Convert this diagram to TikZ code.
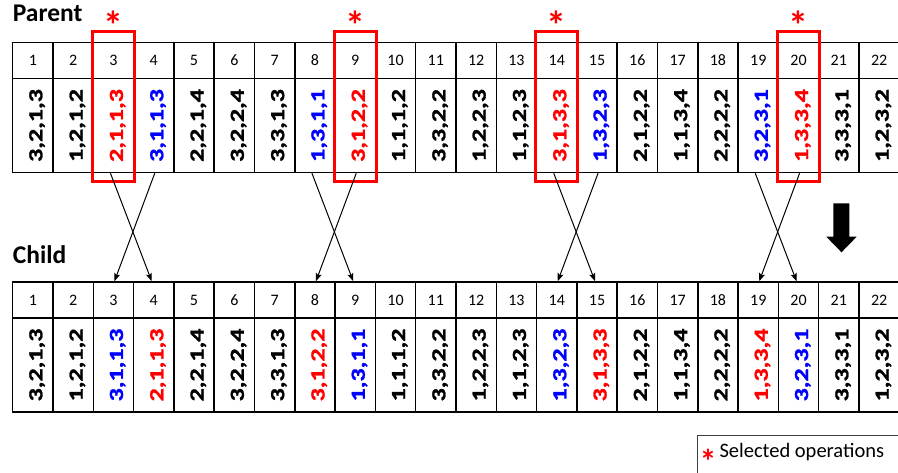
\documentclass[tikz,border=0pt]{standalone}
\usepackage{fontspec}
\setmainfont{Carlito}
\newfontfamily\valfont{Carlito}[BoldFeatures={FakeBold=1.2}]
\usetikzlibrary{arrows.meta}
\definecolor{selred}{RGB}{255,0,0}
\definecolor{selblue}{RGB}{0,0,255}
\newcommand{\selstar}{\raisebox{-0.58em}[0.2em][0.2em]{*}}
\begin{document}
\begin{tikzpicture}[x=1pt,y=1pt,
  cell/.style={draw, line width=1.5pt, inner sep=0pt, minimum width=40.3pt},
  hdr/.style={cell, minimum height=36pt},
  bod/.style={cell, minimum height=94pt},
  num/.style={font=\fontsize{16}{16}\selectfont, inner sep=0pt},
  val/.style={font=\valfont\bfseries\fontsize{20}{20}\selectfont, rotate=90, anchor=base, inner sep=0pt},
  selbox/.style={draw=selred, line width=3pt},
  star/.style={text=selred, font=\bfseries\fontsize{40}{40}\selectfont, inner sep=0pt, anchor=center},
  xarrow/.style={line width=1pt, -{Stealth[length=8pt,width=6pt,inset=1.5pt]}},
  title/.style={font=\bfseries\fontsize{25.5}{25.5}\selectfont, anchor=base west, inner sep=0pt}
]
\useasboundingbox (0,0) rectangle (898,-473);
\clip (0,0) rectangle (898,-473);

\node[title] (parent) at (12.7,-21.7) {Parent};
\node[title] (child) at (12.7,-264) {Child};

% Parent table
\foreach \k/\v/\c in {1/{3,2,1,3}/black,2/{1,2,1,2}/black,3/{2,1,1,3}/selred,4/{3,1,1,3}/selblue,
  5/{2,2,1,4}/black,6/{3,2,2,4}/black,7/{3,3,1,3}/black,8/{1,3,1,1}/selblue,9/{3,1,2,2}/selred,
  10/{1,1,1,2}/black,11/{3,3,2,2}/black,12/{1,2,2,3}/black,13/{1,1,2,3}/black,14/{3,1,3,3}/selred,
  15/{1,3,2,3}/selblue,16/{2,1,2,2}/black,17/{1,1,3,4}/black,18/{2,2,2,2}/black,19/{3,2,3,1}/selblue,
  20/{1,3,3,4}/selred,21/{3,3,3,1}/black,22/{1,2,3,2}/black}{
  \pgfmathsetmacro{\cx}{12.7+40.3*(\k-0.5)}
  \node[hdr] (ph\k) at (\cx,-60.5) {};
  \node[num] (phn\k) at (\cx,-60.5) {\k};
  \node[bod] (pb\k) at (\cx,-125.5) {};
  \node[val, text=\c] (pv\k) at (\cx+9.5,-125.5) {\scalebox{1.3}[1]{\v}};
}

% Child table
\foreach \k/\v/\c in {1/{3,2,1,3}/black,2/{1,2,1,2}/black,3/{3,1,1,3}/selblue,4/{2,1,1,3}/selred,
  5/{2,2,1,4}/black,6/{3,2,2,4}/black,7/{3,3,1,3}/black,8/{3,1,2,2}/selred,9/{1,3,1,1}/selblue,
  10/{1,1,1,2}/black,11/{3,3,2,2}/black,12/{1,2,2,3}/black,13/{1,1,2,3}/black,14/{1,3,2,3}/selblue,
  15/{3,1,3,3}/selred,16/{2,1,2,2}/black,17/{1,1,3,4}/black,18/{2,2,2,2}/black,19/{1,3,3,4}/selred,
  20/{3,2,3,1}/selblue,21/{3,3,3,1}/black,22/{1,2,3,2}/black}{
  \pgfmathsetmacro{\cx}{12.7+40.3*(\k-0.5)}
  \node[hdr] (ch\k) at (\cx,-300) {};
  \node[num] (chn\k) at (\cx,-300) {\k};
  \node[bod] (cb\k) at (\cx,-365) {};
  \node[val, text=\c] (cv\k) at (\cx+9.5,-365) {\scalebox{1.3}[1]{\v}};
}

% Selection boxes and stars
\foreach \k in {3,9,14,20}{
  \draw[selbox] ([yshift=10pt]ph\k.north west) rectangle ([yshift=-8pt]pb\k.south east);
  \pgfmathsetmacro{\cx}{12.7+40.3*(\k-0.5)}
  \node[star] (st\k) at (\cx,-16.5) {\selstar};
}

% Crossover connectors
\foreach \a/\b in {3/4,8/9,14/15,19/20}{
  \draw[xarrow] ([xshift=-3pt]pb\a.south) -- ([xshift=-2pt]ch\b.north);
  \draw[xarrow] ([xshift=1pt]pb\b.south) -- ([xshift=1pt]ch\a.north);
}

% Big down arrow
\fill (833.3,-203.3) -- (849.3,-203.3) -- (849.3,-236.7) -- (856.7,-236.7)
  -- (841.5,-252.3) -- (826.3,-236.7) -- (833.3,-236.7) -- cycle;

% Legend
\draw[line width=0.8pt, draw=black!75] (697.3,-435) rectangle (920,-500);
\node[star, font=\bfseries\fontsize{34}{34}\selectfont] (legstar) at (708,-454) {\selstar};
\node[anchor=base west, inner sep=0pt, font=\fontsize{20.5}{20.5}\selectfont] (legtext) at (719.3,-457.5) {Selected operations};
\end{tikzpicture}
\end{document}
